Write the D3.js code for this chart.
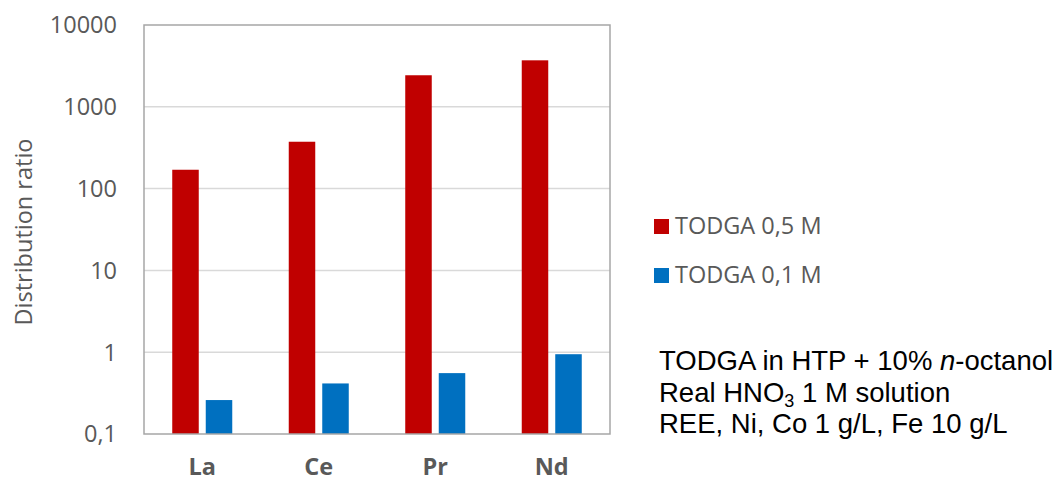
<!DOCTYPE html>
<meta charset="utf-8">
<script src="https://d3js.org/d3.v7.min.js"></script>
<style>
	body { margin: 0; background: #fff; }
	svg { display: block; font-family: "Open Sans", sans-serif; }
	.grid line { stroke: #d9d9d9; stroke-width: 1.5px; }
	.tick-label { fill: #595959; font-size: 23.5px; }
	.cat-label { fill: #595959; font-size: 23.5px; font-weight: bold; }
	.legend text { fill: #595959; font-size: 23.5px; }
	.note { font-family: "Liberation Sans", Arial, sans-serif; font-size: 27.5px; fill: #000; }
</style>
<body>
	<div id="chart"></div>
</body>
<script>
	// data
	const elements = ["La", "Ce", "Pr", "Nd"];
	const seriesNames = ["TODGA 0,5 M", "TODGA 0,1 M"];
	const todga05 = [170, 374, 2430, 3700];
	const todga01 = [0.26, 0.415, 0.555, 0.945];
	const tickValues = [0.1, 1, 10, 100, 1000, 10000];
	const tickLabels = ["0,1", "1", "10", "100", "1000", "10000"];
	const colors = ["#c00000", "#0070c0"];

	const width = 1061, height = 482;
	const plot = { left: 144, right: 610, top: 25, bottom: 434 };

	const svg = d3.select("#chart").append("svg")
		.attr("width", width)
		.attr("height", height);

	const y = d3.scaleLog()
		.domain([0.1, 10000])
		.range([plot.bottom, plot.top]);

	const x0 = d3.scaleBand()
		.domain(elements)
		.range([plot.left, plot.right]);

	const x1 = d3.scaleBand()
		.domain(seriesNames)
		.range([0, x0.bandwidth()])
		.paddingInner(0.209)
		.paddingOuter(0.843);

	// gridlines
	svg.append("g").attr("class", "grid")
		.selectAll("line")
		.data(tickValues.slice(1, -1))
		.enter().append("line")
		.attr("x1", plot.left).attr("x2", plot.right)
		.attr("y1", d => y(d)).attr("y2", d => y(d));

	// bars
	const rows = elements.map((e, i) => ({ el: e, vals: [todga05[i], todga01[i]] }));
	svg.append("g")
		.selectAll("g")
		.data(rows)
		.enter().append("g")
		.attr("transform", d => "translate(" + x0(d.el) + ",0)")
		.selectAll("rect")
		.data(d => d.vals.map((v, k) => ({ s: seriesNames[k], v: v, k: k })))
		.enter().append("rect")
		.attr("x", d => x1(d.s))
		.attr("width", x1.bandwidth())
		.attr("y", d => y(d.v))
		.attr("height", d => plot.bottom - y(d.v))
		.attr("fill", d => colors[d.k]);

	// plot frame
	svg.append("rect")
		.attr("x", plot.left).attr("y", plot.top)
		.attr("width", plot.right - plot.left)
		.attr("height", plot.bottom - plot.top)
		.attr("fill", "none")
		.attr("stroke", "#a6a6a6")
		.attr("stroke-width", 1.5);

	// y tick labels
	svg.append("g")
		.selectAll("text")
		.data(tickValues)
		.enter().append("text")
		.attr("class", "tick-label")
		.attr("x", 117)
		.attr("y", d => y(d))
		.attr("dy", "0.36em")
		.attr("text-anchor", "end")
		.text((d, i) => tickLabels[i]);

	// category labels
	svg.append("g")
		.selectAll("text")
		.data(elements)
		.enter().append("text")
		.attr("class", "cat-label")
		.attr("x", d => x0(d) + x0.bandwidth() / 2)
		.attr("y", 475)
		.attr("text-anchor", "middle")
		.text(d => d);

	// y axis title
	svg.append("text")
		.attr("class", "tick-label")
		.attr("transform", "translate(32,232) rotate(-90)")
		.attr("text-anchor", "middle")
		.text("Distribution ratio");

	// legend
	const legend = svg.append("g").attr("class", "legend")
		.selectAll("g")
		.data(seriesNames)
		.enter().append("g")
		.attr("transform", (d, i) => "translate(654," + (219 + i * 49) + ")");
	legend.append("rect")
		.attr("width", 15).attr("height", 15)
		.attr("fill", (d, i) => colors[i]);
	legend.append("text")
		.attr("x", 21).attr("y", 15)
		.text(d => d);

	// annotation
	const note = svg.append("g").attr("class", "note");
	const l1 = note.append("text").attr("x", 659).attr("y", 370);
	l1.append("tspan").text("TODGA in HTP + 10% ");
	l1.append("tspan").style("font-style", "italic").text("n");
	l1.append("tspan").text("-octanol");
	const l2 = note.append("text").attr("x", 659).attr("y", 401.5);
	l2.append("tspan").text("Real HNO");
	l2.append("tspan").attr("dy", 5).style("font-size", "18px").text("3");
	l2.append("tspan").attr("dy", -5).text(" 1 M solution");
	note.append("text").attr("x", 659).attr("y", 433).text("REE, Ni, Co 1 g/L, Fe 10 g/L");
</script>
